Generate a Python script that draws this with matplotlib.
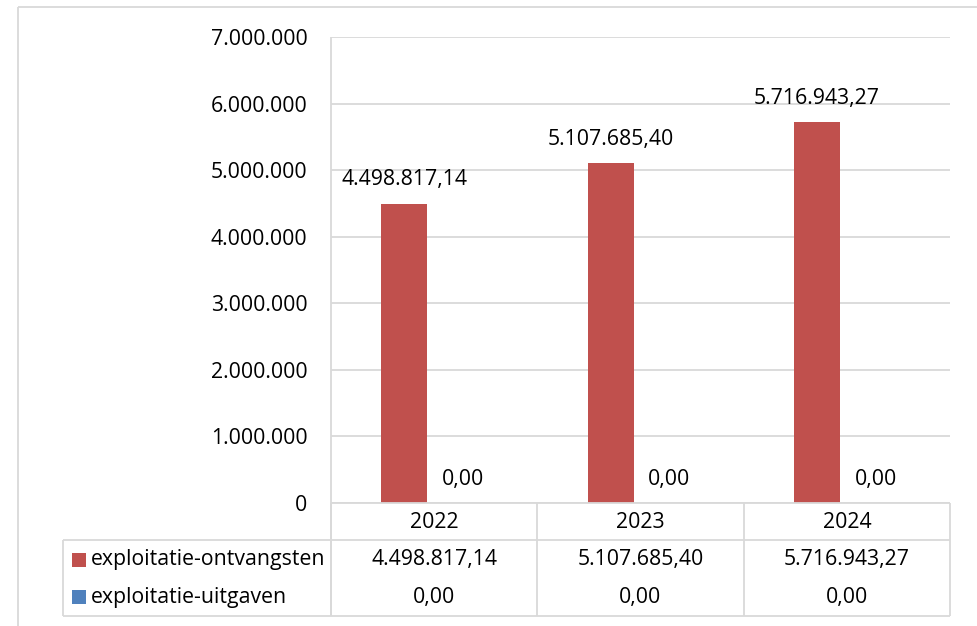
import matplotlib
matplotlib.use("Agg")
import matplotlib.pyplot as plt
from matplotlib.lines import Line2D
from matplotlib.patches import Rectangle
import numpy as np

# ---- data ----
years = ["2022", "2023", "2024"]
series_names = ["exploitatie-ontvangsten", "exploitatie-uitgaven"]
ontvangsten = [4498817.14, 5107685.40, 5716943.27]
uitgaven = [0.00, 0.00, 0.00]
y_ticks = [0, 1000000, 2000000, 3000000, 4000000, 5000000, 6000000, 7000000]

RED = "#C0504D"
BLUE = "#4F81BD"
GRID = "#D9D9D9"
TXT = "#000000"
FONT = "Open Sans"
FS = 15.3

plt.rcParams['font.family'] = [FONT, 'DejaVu Sans']

W, H = 978, 626
fig = plt.figure(figsize=(W / 100, H / 100), dpi=100)


def nl_money(v):
    s = f"{v:,.2f}"
    return s.replace(",", "X").replace(".", ",").replace("X", ".")


def nl_int(v):
    return f"{int(v):,}".replace(",", ".")


# plot area in pixels
PL, PR, PT, PB = 331, 950, 37, 503
ax = fig.add_axes([PL / W, 1 - PB / H, (PR - PL) / W, (PB - PT) / H])
ax.set_xlim(-0.5, len(years) - 0.5)
ax.set_ylim(0, 7000000)
for s in ax.spines.values():
    s.set_visible(False)
ax.set_xticks([])
ax.set_yticks(y_ticks)
ax.set_yticklabels([nl_int(v) for v in y_ticks], fontsize=FS, color=TXT)
ax.tick_params(axis='y', length=0, pad=17)
ax.yaxis.grid(True, color=GRID, linewidth=1.3)
ax.set_axisbelow(True)

cw = PR - PL
bw = 46 / (cw / len(years))
x = np.arange(len(years))
red_x = x - 0.145
blue_x = red_x + bw
ax.bar(red_x, ontvangsten, width=bw, color=RED, zorder=3)
ax.bar(blue_x, uitgaven, width=bw, color=BLUE, zorder=3)

for xi, v in zip(red_x, ontvangsten):
    ax.annotate(nl_money(v), (xi, v), xytext=(0, 13), textcoords='offset points',
                ha='center', va='baseline', fontsize=FS, color=TXT, annotation_clip=False)
for xi, v in zip(x + 0.14, uitgaven):
    ax.annotate(nl_money(v), (xi, v), xytext=(0, 13), textcoords='offset points',
                ha='center', va='baseline', fontsize=FS, color=TXT, annotation_clip=False)

# overlay axes in pixel coordinates for borders and data table
ov = fig.add_axes([0, 0, 1, 1], zorder=5)
ov.set_xlim(0, W)
ov.set_ylim(H, 0)
ov.axis('off')
ov.patch.set_alpha(0)


def line(xs, ys):
    ov.add_line(Line2D(xs, ys, color=GRID, linewidth=1.3, solid_capstyle='butt'))


# chart outer border (extends past figure edge)
line([18, W + 5], [7, 7])
line([18, 18], [7, H + 5])

# vertical axis line
line([PL, PL], [PT, 616])

TL = 63
RH1, RB = 540, 616
cat_w = cw / len(years)
for i in range(len(years) + 1):
    xx = PL + i * cat_w
    line([xx, xx], [PB, RB])
line([PL, PR], [PB, PB])
line([TL, PR], [RH1, RH1])
line([TL, PR], [RB, RB])
line([TL, TL], [RH1, RB])

row_y = [560, 597]
colors = [RED, BLUE]
for i, yr in enumerate(years):
    cx = PL + (i + 0.5) * cat_w
    ov.text(cx, 522, yr, ha='center', va='center', fontsize=FS, color=TXT)
    ov.text(cx, row_y[0], nl_money(ontvangsten[i]), ha='center', va='center', fontsize=FS, color=TXT)
    ov.text(cx, row_y[1], nl_money(uitgaven[i]), ha='center', va='center', fontsize=FS, color=TXT)

for name, c, yy in zip(series_names, colors, row_y):
    ov.add_patch(Rectangle((72, yy - 7), 14, 14, color=c, linewidth=0))
    ov.text(91, yy, name, ha='left', va='center', fontsize=FS, color=TXT)

fig.savefig("out.png", dpi=100)
